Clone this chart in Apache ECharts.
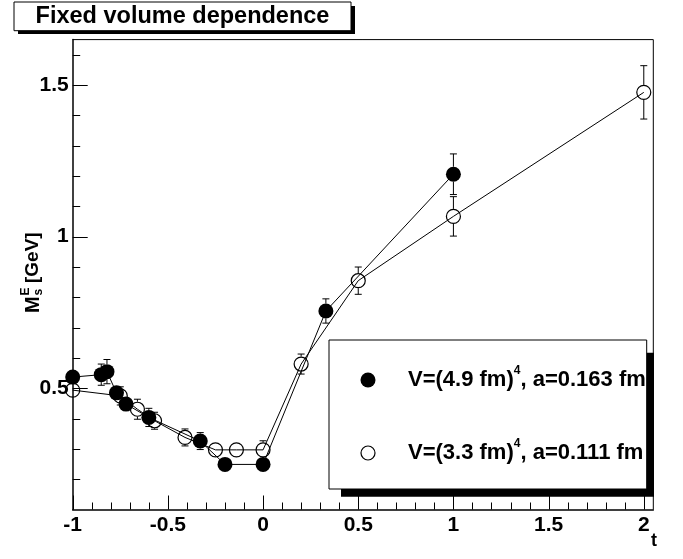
<!DOCTYPE html>
<html>
<head>
<meta charset="utf-8">
<script src="https://cdn.jsdelivr.net/npm/echarts@6/dist/echarts.min.js"></script>
<style>
html,body{margin:0;padding:0;background:#fff;}
#c{width:683px;height:559px;}
</style>
</head>
<body>
<div id="c"></div>
<script>
// ---- data ----
const tFilled = [-1.0, -0.85, -0.82, -0.77, -0.72, -0.60, -0.33, -0.20, 0.0, 0.33, 1.0];
const vFilled = [0.537, 0.545, 0.555, 0.485, 0.448, 0.404, 0.326, 0.249, 0.249, 0.755, 1.206];
const eFilled = [0.02, 0.035, 0.04, 0.02, 0.02, 0.03, 0.028, 0.015, 0.015, 0.04, 0.067];

const tOpen = [-1.0, -0.75, -0.66, -0.57, -0.41, -0.25, -0.14, 0.0, 0.2, 0.5, 1.0, 2.0];
const vOpen = [0.494, 0.475, 0.431, 0.393, 0.338, 0.297, 0.297, 0.297, 0.58, 0.855, 1.067, 1.476];
const eOpen = [0.02, 0.03, 0.033, 0.028, 0.028, 0.015, 0.015, 0.03, 0.033, 0.045, 0.065, 0.088];

const xMajorTicks = [-1, -0.5, 0, 0.5, 1, 1.5, 2];
const xLabels = ['-1', '-0.5', '0', '0.5', '1', '1.5', '2'];
const xMinorTicks = [-0.9,-0.8,-0.7,-0.6,-0.4,-0.3,-0.2,-0.1,0.1,0.2,0.3,0.4,0.6,0.7,0.8,0.9,1.1,1.2,1.3,1.4,1.6,1.7,1.8,1.9];
const yMajorTicks = [0.5, 1, 1.5];
const yLabels = ['0.5', '1', '1.5'];
const yMinorTicks = [0.2,0.3,0.4,0.6,0.7,0.8,0.9,1.1,1.2,1.3,1.4,1.6];

const titleText = 'Fixed volume dependence';
const legend1 = 'V=(4.9 fm)';
const legend1b = ', a=0.163 fm';
const legend2 = 'V=(3.3 fm)';
const legend2b = ', a=0.111 fm';

// ---- chart ----
const FONT = 'Liberation Sans, Arial, Helvetica, sans-serif';
const R = 7.5;
const X_MIN = -1, X_MAX = 2.05, Y_MIN = 0.1, Y_MAX = 1.65;
const chart = echarts.init(document.getElementById('c'), null, {renderer: 'canvas'});

function pts(t, v){ return t.map((x,i)=>[x, v[i]]); }
function errData(t, v, e){ return t.map((x,i)=>[x, v[i], e[i]]); }

function errRender(params, api){
  const x = api.value(0), v = api.value(1), e = api.value(2);
  const pc = api.coord([x, v]);
  const ph = api.coord([x, v + e]);
  const pl = api.coord([x, v - e]);
  const children = [];
  const cw = 3.5;
  const st = {stroke:'#000', lineWidth:1};
  if (pc[1] - R > ph[1]) {
    children.push({type:'line', shape:{x1:pc[0], y1:ph[1], x2:pc[0], y2:pc[1]-R}, style:st});
    children.push({type:'line', shape:{x1:pc[0]-cw, y1:ph[1], x2:pc[0]+cw, y2:ph[1]}, style:st});
  }
  if (pl[1] > pc[1] + R) {
    children.push({type:'line', shape:{x1:pc[0], y1:pc[1]+R, x2:pc[0], y2:pl[1]}, style:st});
    children.push({type:'line', shape:{x1:pc[0]-cw, y1:pl[1], x2:pc[0]+cw, y2:pl[1]}, style:st});
  }
  return {type:'group', children};
}

const baseGraphic = [
  // frame (top and right sides of the plot box)
  {type: 'line', shape: {x1: 72.7, y1: 39.6, x2: 653.3, y2: 39.6}, style: {stroke: '#000', lineWidth: 1}, z: 1},
  {type: 'line', shape: {x1: 653.3, y1: 39.6, x2: 653.3, y2: 509.6}, style: {stroke: '#000', lineWidth: 1}, z: 1},
  // title box
  {type: 'rect', shape: {x: 18, y: 6, width: 337, height: 28}, style: {fill: '#000'}, z: 10},
  {type: 'rect', shape: {x: 14, y: 2, width: 337, height: 28.7}, style: {fill: '#fff', stroke: '#000', lineWidth: 1}, z: 11},
  {type: 'text', x: 182.5, y: 17, z: 12, style: {text: titleText, fill: '#000', font: 'bold 23.5px ' + FONT, align: 'center', verticalAlign: 'middle'}},
  // legend box
  {type: 'rect', shape: {x: 341, y: 352.7, width: 313, height: 144}, style: {fill: '#000'}, z: 10},
  {type: 'rect', shape: {x: 329, y: 340, width: 317.7, height: 149}, style: {fill: '#fff', stroke: '#000', lineWidth: 1}, z: 11},
  {type: 'circle', shape: {cx: 368, cy: 380, r: R}, style: {fill: '#000'}, z: 12},
  {type: 'circle', shape: {cx: 368, cy: 453, r: R - 0.5}, style: {fill: '#fff', stroke: '#000', lineWidth: 1.2}, z: 12},
  {type: 'text', x: 408, y: 380, z: 12, style: {
    text: '{b|' + legend1 + '}{s|4}{b|' + legend1b + '}', verticalAlign: 'middle', align: 'left',
    rich: {b: {font: 'bold 22px ' + FONT, fill: '#000', lineHeight: 30}, s: {font: 'bold 12px ' + FONT, fill: '#000', lineHeight: 14, verticalAlign: 'top'}}}},
  {type: 'text', x: 408, y: 453, z: 12, style: {
    text: '{b|' + legend2 + '}{s|4}{b|' + legend2b + '}', verticalAlign: 'middle', align: 'left',
    rich: {b: {font: 'bold 22px ' + FONT, fill: '#000', lineHeight: 30}, s: {font: 'bold 12px ' + FONT, fill: '#000', lineHeight: 14, verticalAlign: 'top'}}}},
  // x axis title
  {type: 'text', x: 657, y: 541, z: 12, style: {text: 't', font: 'bold 18px ' + FONT, fill: '#000', align: 'right', verticalAlign: 'middle'}},
  // y axis title (rotated)
  {type: 'group', x: 33, y: 276, rotation: Math.PI / 2, z: 12, children: [
    {type: 'text', x: -37, y: 0, style: {text: 'M', font: 'bold 20px ' + FONT, fill: '#000', align: 'left', verticalAlign: 'middle'}},
    {type: 'text', x: -19.5, y: -7, style: {text: 'E', font: 'bold 12px ' + FONT, fill: '#000', align: 'left', verticalAlign: 'middle'}},
    {type: 'text', x: -19.5, y: 6, style: {text: 's', font: 'bold 12px ' + FONT, fill: '#000', align: 'left', verticalAlign: 'middle'}},
    {type: 'text', x: -7, y: 0, style: {text: '[GeV]', font: 'bold 19px ' + FONT, fill: '#000', align: 'left', verticalAlign: 'middle'}}
  ]}
];

function buildOption(extraGraphic){
  return {
    animation: false,
    backgroundColor: '#fff',
    grid: {left: 72.7, top: 39.6, width: 580.6, height: 470, show: false},
    xAxis: {
      type: 'value', min: X_MIN, max: X_MAX, position: 'bottom',
      axisLine: {show: true, onZero: false, lineStyle: {color: '#000', width: 1.5}},
      axisTick: {show: false},
      axisLabel: {show: true, customValues: xMajorTicks, margin: 5, color: '#000', fontFamily: FONT, fontWeight: 'bold', fontSize: 21,
        formatter: (val) => xLabels[xMajorTicks.findIndex(m => Math.abs(m - val) < 1e-9)] ?? ''},
      splitLine: {show: false}
    },
    yAxis: {
      type: 'value', min: Y_MIN, max: Y_MAX, position: 'left',
      axisLine: {show: true, onZero: false, lineStyle: {color: '#000', width: 1.5}},
      axisTick: {show: false},
      axisLabel: {show: true, customValues: yMajorTicks, margin: 4, color: '#000', fontFamily: FONT, fontWeight: 'bold', fontSize: 21,
        formatter: (val) => yLabels[yMajorTicks.findIndex(m => Math.abs(m - val) < 1e-9)] ?? ''},
      splitLine: {show: false}
    },
    series: [
      {type: 'custom', data: errData(tFilled, vFilled, eFilled), renderItem: errRender, z: 2, encode:{x:0, y:1}},
      {type: 'custom', data: errData(tOpen, vOpen, eOpen), renderItem: errRender, z: 2, encode:{x:0, y:1}},
      {type: 'line', data: pts(tFilled, vFilled), symbol: 'circle', symbolSize: 2*R, z: 3,
        lineStyle: {color: '#000', width: 1}, itemStyle: {color: '#000', borderColor: '#000', borderWidth: 0}},
      {type: 'line', data: pts(tOpen, vOpen), symbol: 'circle', symbolSize: 2*R - 1, z: 3,
        lineStyle: {color: '#000', width: 1}, itemStyle: {color: 'rgba(0,0,0,0)', borderColor: '#000', borderWidth: 1.2}}
    ],
    graphic: baseGraphic.concat(extraGraphic)
  };
}

chart.setOption(buildOption([]));

// axis ticks placed through the chart's own axis scales, drawn as thin filled rects
const tickEls = [];
function xTick(v, len){
  const p = chart.convertToPixel({gridIndex: 0}, [v, Y_MIN]);
  const x = Math.round(p[0]);
  tickEls.push({type: 'rect', z: 20, shape: {x: x, y: p[1] - len, width: 1, height: len}, style: {fill: '#000'}});
}
function yTick(v, len){
  const p = chart.convertToPixel({gridIndex: 0}, [X_MIN, v]);
  const y = Math.round(p[1]);
  tickEls.push({type: 'rect', z: 20, shape: {x: p[0], y: y, width: len, height: 1}, style: {fill: '#000'}});
}
xMajorTicks.forEach(v => xTick(v, 14));
xMinorTicks.forEach(v => xTick(v, 7));
yMajorTicks.forEach(v => yTick(v, 15));
yMinorTicks.forEach(v => yTick(v, 7.5));

chart.setOption(buildOption(tickEls), {notMerge: true});
</script>
</body>
</html>
